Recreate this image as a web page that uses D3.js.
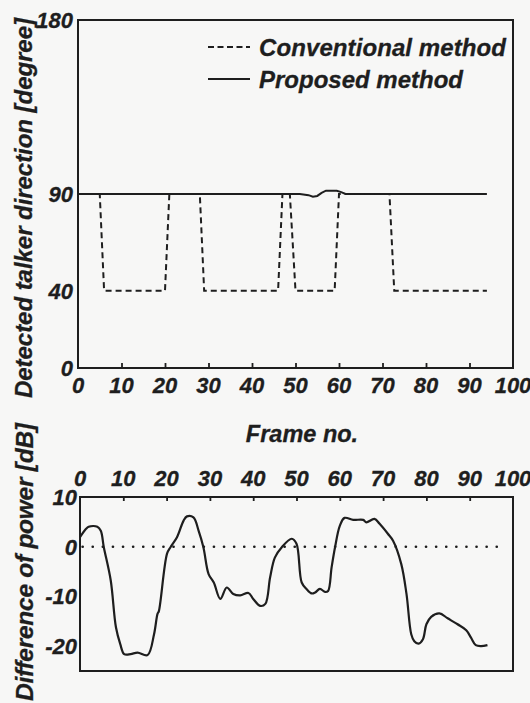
<!DOCTYPE html>
<html>
<head>
<meta charset="utf-8">
<script src="https://cdn.jsdelivr.net/npm/d3@7"></script>
<style>
  body { margin: 0; background: #f7f7f6; }
  svg { display: block; }
  text { font-family: "Liberation Sans", Arial, sans-serif; font-weight: bold; font-style: italic;
         fill: #1e1e1e; stroke: #1e1e1e; stroke-width: 0.3; }
</style>
</head>
<body>
<svg id="chart" width="530" height="703"></svg>
<script>
// frame numbers shared by both panels
const frameTicks = [0, 10, 20, 30, 40, 50, 60, 70, 80, 90, 100];

// top panel: detected direction [degree]
const dirTicks = [0, 40, 90, 180];
const conventionalFrames = [0, 5, 6, 20, 21, 28, 29, 46, 47, 48.7, 50, 59, 60, 71.6, 72.7, 94];
const conventionalDeg    = [90, 90, 40, 40, 90, 90, 40, 40, 90, 90, 40, 40, 90, 90, 40, 40];
const proposedFrames = [0, 51, 53, 54, 55, 56, 57, 59.5, 60.5, 61.5, 94];
const proposedDeg    = [90, 90, 89.4, 88.6, 89, 90.6, 91.7, 91.7, 91, 90, 90];

// bottom panel: difference of power [dB]
const powerFrames = [0, 1.4, 2, 4, 4.8, 5.5, 7.1, 8.3, 9.3, 10.2, 11.7, 13.3, 15.6, 17.1, 17.9, 18.2,
  20.1, 20.9, 22.4, 23.9, 24.7, 26.2, 27.4, 28.5, 29.7, 30.9, 32.4, 33.9, 35.4, 37, 38.9, 40, 41.6, 42.8,
  43.9, 45, 46.6, 48.9, 50, 51.2, 52.3, 53.5, 54.3, 55.4, 56.6, 57.3, 58.1, 58.9, 60, 61.1, 63.1, 65.4,
  66.1, 68, 69.2, 71.1, 72.3, 74.2, 75.4, 76.5, 77.2, 78.2, 79.2, 80, 81.1, 83, 84.9, 87.2, 89.2, 90.3,
  91.4, 92.6, 94.1];
const powerDb = [1.9, 3.6, 4, 4, 3.2, -0.1, -6.8, -16.2, -19.6, -21.6, -21.6, -21.3, -21.8, -17.6, -13.5, -13,
  -1.4, -0.1, 1.9, 5.2, 6.1, 5.9, 3.2, -0.1, -5.5, -7.2, -10.5, -8.2, -9.5, -9.8, -9.3, -10.5, -11.9, -11.5,
  -6.2, -2.2, -0.1, 1.6, 0.6, -7.2, -8.5, -9.4, -9.2, -8.5, -9.1, -8.9, -4.2, -0.1, 4.2, 5.8, 5.4, 5.4,
  4.9, 5.6, 4.6, 2.6, 1.2, -3.5, -9.5, -17.6, -19, -19.5, -18.6, -15.6, -14.1, -13.4, -14.4, -15.6, -16.8, -18.3,
  -19.8, -20, -19.8];
const powerTicks = [10, 0, -10, -20];

const svg = d3.select("#chart");
const ink = "#1e1e1e";

// ---------- top panel ----------
const xTop = d3.scaleLinear().domain([0, 100]).range([78, 513]);
const yTop = d3.scaleLinear().domain([0, 180]).range([368, 20]);

const topPanel = svg.append("g");

topPanel.append("rect")
  .attr("x", xTop(0)).attr("y", yTop(180))
  .attr("width", xTop(100) - xTop(0)).attr("height", yTop(0) - yTop(180))
  .attr("fill", "none").attr("stroke", ink).attr("stroke-width", 2);

// inner ticks on bottom edge
topPanel.append("g")
  .attr("transform", `translate(0,${yTop(0)})`)
  .call(d3.axisTop(xTop).tickValues(frameTicks.slice(1, -1)).tickSize(5).tickFormat(""))
  .call(g => g.select(".domain").remove())
  .call(g => g.selectAll("line").attr("stroke", ink).attr("stroke-width", 1.8));

topPanel.selectAll(".xlab")
  .data(frameTicks).enter().append("text")
  .attr("x", d => xTop(d))
  .attr("y", 393)
  .attr("text-anchor", "middle")
  .attr("font-size", 22)
  .text(d => d);

topPanel.selectAll(".ylab")
  .data(dirTicks).enter().append("text")
  .attr("x", 73)
  .attr("y", d => yTop(d) + 8)
  .attr("text-anchor", "end")
  .attr("font-size", 22)
  .text(d => d);

const lineTop = d3.line().x(d => xTop(d[0])).y(d => yTop(d[1]));

topPanel.append("path")
  .attr("d", lineTop(d3.zip(proposedFrames, proposedDeg)))
  .attr("fill", "none").attr("stroke", ink).attr("stroke-width", 2);

topPanel.append("path")
  .attr("d", lineTop(d3.zip(conventionalFrames, conventionalDeg)))
  .attr("fill", "none").attr("stroke", ink).attr("stroke-width", 2)
  .attr("stroke-dasharray", "6,4");

// legend
const legend = topPanel.append("g");
legend.append("line")
  .attr("x1", 208).attr("x2", 250).attr("y1", 47).attr("y2", 47)
  .attr("stroke", ink).attr("stroke-width", 2).attr("stroke-dasharray", "6,3.5");
legend.append("line")
  .attr("x1", 208).attr("x2", 250).attr("y1", 79).attr("y2", 79)
  .attr("stroke", ink).attr("stroke-width", 2);
legend.append("text").attr("x", 259).attr("y", 56).attr("font-size", 24)
  .attr("textLength", 247).attr("lengthAdjust", "spacing").text("Conventional method");
legend.append("text").attr("x", 259).attr("y", 88).attr("font-size", 24).text("Proposed method");

svg.append("text")
  .attr("transform", "translate(32,208) rotate(-90)")
  .attr("text-anchor", "middle")
  .attr("font-size", 24)
  .attr("textLength", 380).attr("lengthAdjust", "spacing")
  .text("Detected talker direction [degree]");

svg.append("text")
  .attr("x", 302).attr("y", 442)
  .attr("text-anchor", "middle")
  .attr("font-size", 23.5)
  .text("Frame no.");

// ---------- bottom panel ----------
const xBot = d3.scaleLinear().domain([0, 100]).range([80, 513]);
const yBot = d3.scaleLinear().domain([-25, 10]).range([671, 497]);

const botPanel = svg.append("g");

botPanel.append("rect")
  .attr("x", xBot(0)).attr("y", yBot(10))
  .attr("width", xBot(100) - xBot(0)).attr("height", yBot(-25) - yBot(10))
  .attr("fill", "none").attr("stroke", ink).attr("stroke-width", 2);

botPanel.append("g")
  .attr("transform", `translate(0,${yBot(10)})`)
  .call(d3.axisBottom(xBot).tickValues(frameTicks.slice(1, -1)).tickSize(4).tickFormat(""))
  .call(g => g.select(".domain").remove())
  .call(g => g.selectAll("line").attr("stroke", ink).attr("stroke-width", 1.8));

botPanel.selectAll(".xlab")
  .data(frameTicks).enter().append("text")
  .attr("x", d => xBot(d))
  .attr("y", 486)
  .attr("text-anchor", "middle")
  .attr("font-size", 22)
  .text(d => d);

botPanel.selectAll(".ylab")
  .data(powerTicks).enter().append("text")
  .attr("x", 77)
  .attr("y", d => yBot(d) + 8)
  .attr("text-anchor", "end")
  .attr("font-size", 22)
  .text(d => d);

// dotted zero line
botPanel.append("line")
  .attr("x1", xBot(0.6)).attr("x2", xBot(98.5))
  .attr("y1", yBot(0)).attr("y2", yBot(0))
  .attr("stroke", ink).attr("stroke-width", 2.6)
  .attr("stroke-linecap", "round")
  .attr("stroke-dasharray", "0.1,10");

const lineBot = d3.line()
  .x(d => xBot(d[0])).y(d => yBot(d[1]))
  .curve(d3.curveCatmullRom.alpha(0.5));

botPanel.append("path")
  .attr("d", lineBot(d3.zip(powerFrames, powerDb)))
  .attr("fill", "none").attr("stroke", ink).attr("stroke-width", 2.2)
  .attr("stroke-linejoin", "round");

svg.append("text")
  .attr("transform", "translate(33,562) rotate(-90)")
  .attr("text-anchor", "middle")
  .attr("font-size", 24.5)
  .attr("textLength", 278).attr("lengthAdjust", "spacing")
  .text("Difference of power [dB]");
</script>
</body>
</html>
